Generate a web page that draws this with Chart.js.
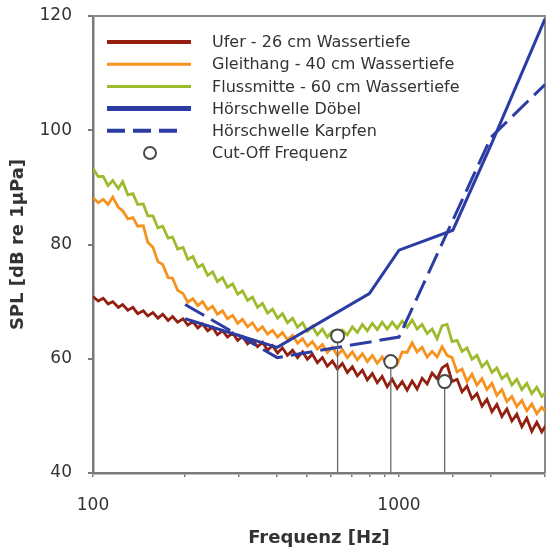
<!DOCTYPE html>
<html>
<head>
<meta charset="utf-8">
<title>SPL Spektren</title>
<script src="https://cdn.jsdelivr.net/npm/chart.js@4.4.1/dist/chart.umd.min.js"></script>
<style>
    html, body { margin: 0; padding: 0; background: #fff; }
    #myChart { display: block; }
</style>
</head>
<body>
<canvas id="myChart" width="547" height="550"></canvas>
<script>
"use strict";

// Frequenzachse der gemessenen Spektren [Hz]
let freq = [100,104,108,112,116,121,125,130,135,140,146,151,157,163,169,176,182,189,197,204,
    212,220,228,237,246,255,265,275,286,297,308,320,332,345,358,372,386,401,416,432,
    449,466,484,502,521,541,562,583,606,629,653,678,704,731,759,788,818,849,881,915,
    950,986,1024,1063,1104,1146,1190,1236,1283,1332,1383,1436,1491,1548,1607,1668,1732,1798,1867,1938,
    2012,2089,2169,2252,2338,2427,2520,2616,2716,2820,2928,3040];

// Ufer - 26 cm Wassertiefe [dB re 1µPa]
let ufer = [70.9,70.1,70.6,69.6,70.0,69.0,69.5,68.5,69.0,67.9,68.4,67.5,68.1,67.1,67.8,66.7,67.4,66.4,67.0,65.9,
    66.5,65.4,66.1,64.9,65.5,64.2,64.9,63.8,64.5,63.2,63.9,62.6,63.3,62.1,62.9,61.5,62.3,61.0,61.9,60.6,
    61.5,60.2,61.2,59.9,60.8,59.3,60.2,58.7,59.6,58.2,59.2,57.6,58.6,57.0,58.0,56.3,57.4,55.8,56.9,55.1,
    56.4,54.8,56.0,54.5,56.1,54.7,56.6,55.6,57.5,56.5,58.4,59.0,56.0,56.4,54.2,55.2,53.0,53.9,51.7,52.9,
    50.7,52.0,49.9,51.2,49.1,50.3,48.1,49.6,47.3,48.9,47.2,48.6];

// Gleithang - 40 cm Wassertiefe
let gleithang = [88.2,87.3,87.9,87.0,88.3,86.5,85.9,84.5,84.7,83.2,83.3,80.4,79.5,77.0,76.5,74.2,74.1,72.0,71.4,69.9,
    70.5,69.3,70.0,68.6,69.2,67.8,68.4,67.0,67.6,66.2,66.9,65.6,66.3,64.9,65.6,64.3,65.0,63.8,64.6,63.3,
    64.1,62.7,63.5,62.2,63.0,61.7,62.5,61.1,62.0,60.6,61.6,60.2,61.2,59.8,60.9,59.5,60.6,59.2,60.3,58.8,
    59.9,59.0,61.2,61.1,62.8,61.2,62.0,60.3,61.3,60.3,62.1,60.6,60.2,57.7,58.2,56.0,57.3,55.4,56.5,54.6,
    55.7,53.6,54.6,52.5,53.4,51.6,52.7,50.9,52.1,50.4,51.5,50.5];

// Flussmitte - 60 cm Wassertiefe
let flussmitte = [93.3,91.9,91.9,90.3,91.2,89.8,91.0,88.7,88.9,87.0,87.1,85.0,85.0,82.9,83.2,81.1,81.3,79.2,79.5,77.4,
    77.9,76.0,76.5,74.6,75.2,73.5,74.2,72.5,73.1,71.3,71.9,70.2,70.8,69.0,69.7,68.0,68.7,67.1,67.9,66.3,
    67.1,65.5,66.3,64.8,65.7,64.2,65.2,63.8,64.8,63.5,65.0,64.2,65.6,64.6,66.0,64.9,66.2,65.1,66.4,65.2,
    66.4,65.3,66.6,65.5,66.8,65.2,66.0,64.4,65.2,63.5,65.8,66.0,63.0,63.2,61.3,61.9,59.9,60.6,58.6,59.5,
    57.6,58.4,56.5,57.3,55.4,56.4,54.6,55.7,53.9,55.0,53.4,54.3];

// Hörschwellen
let doebelFreq = [200, 400, 800, 1000, 1500, 2000, 3000];
let doebel = [67, 62, 71.4, 79, 82.5, 97.5, 119.5];
let karpfenFreq = [200, 400, 1000, 2000, 3000];
let karpfen = [69.5, 60.2, 63.8, 98.8, 108];

// Cut-Off Frequenzen der drei Messstellen
let cutOffFreq = [630, 940, 1410];
let cutOff = [64, 59.5, 56];

let yTicks = [40, 60, 80, 100, 120];
let xLabels = [100, 1000];

let FONT = "'DejaVu Sans', Verdana, sans-serif";

function toPoints(xs, ys) {
    return xs.map(function (x, i) { return {x: x, y: ys[i]}; });
}

// senkrechte Linien von der Cut-Off Frequenz bis zur Achse
function dropLines(xs, ys, base) {
    let pts = [];
    for (let i = 0; i < xs.length; i++) {
        pts.push({x: xs[i], y: ys[i]});
        pts.push({x: xs[i], y: base});
        pts.push({x: xs[i], y: null});
    }
    return pts;
}

// keine zusaetzlichen Raender fuer die Achsenbeschriftung
function noPadding(scale) {
    scale.paddingTop = 0;
    scale.paddingBottom = 0;
    scale.paddingLeft = 0;
    scale.paddingRight = 0;
}

// Rahmen oben und rechts
const frame = {
    id: "frame",
    beforeDatasetsDraw: function (chart) {
        let ctx = chart.ctx, a = chart.chartArea;
        ctx.save();
        ctx.strokeStyle = "#8a8a8a";
        ctx.lineWidth = 2;
        ctx.beginPath();
        ctx.moveTo(a.left, a.top);
        ctx.lineTo(a.right, a.top);
        ctx.lineTo(a.right, a.bottom);
        ctx.stroke();
        ctx.restore();
    }
};

// Legende innerhalb der Grafik, links oben
const legendBox = {
    id: "legendBox",
    afterDatasetsDraw: function (chart) {
        let ctx = chart.ctx, a = chart.chartArea;
        let row = 0;
        ctx.save();
        chart.data.datasets.forEach(function (ds) {
            if (!ds.label) return;
            let y = a.top + 26 + row * 22.2;
            let x0 = a.left + 14, x1 = a.left + 98;
            if (ds.showLine === false) {
                ctx.setLineDash([]);
                ctx.beginPath();
                ctx.arc((x0 + x1) / 2 + 1, y, 6, 0, Math.PI * 2);
                ctx.fillStyle = ds.pointBackgroundColor;
                ctx.fill();
                ctx.lineWidth = ds.pointBorderWidth;
                ctx.strokeStyle = ds.pointBorderColor;
                ctx.stroke();
            } else {
                if (ds.borderDash) {
                    ctx.setLineDash([18, 8]);
                    x1 = a.left + 90;
                } else {
                    ctx.setLineDash([]);
                }
                ctx.lineWidth = ds.legendWidth;
                ctx.strokeStyle = ds.borderColor;
                ctx.beginPath();
                ctx.moveTo(x0, y);
                ctx.lineTo(x1, y);
                ctx.stroke();
            }
            ctx.setLineDash([]);
            ctx.fillStyle = "#333";
            ctx.font = "16px " + FONT;
            ctx.textBaseline = "middle";
            ctx.textAlign = "left";
            ctx.fillText(ds.label, a.left + 119, y + 1);
            row++;
        });
        ctx.restore();
    }
};

let _Chart = document.getElementById("myChart");

let newChart = new Chart(_Chart, {
    type: "line",
    data: {
        datasets: [
            {
                label: "Ufer - 26 cm Wassertiefe",
                data: toPoints(freq, ufer),
                borderColor: "#921f10",
                borderWidth: 2.8,
                legendWidth: 4,
                pointRadius: 0,
                order: 5
            },
            {
                label: "Gleithang - 40 cm Wassertiefe",
                data: toPoints(freq, gleithang),
                borderColor: "#f7921e",
                borderWidth: 2.8,
                legendWidth: 3,
                pointRadius: 0,
                order: 6
            },
            {
                label: "Flussmitte - 60 cm Wassertiefe",
                data: toPoints(freq, flussmitte),
                borderColor: "#9dbb2c",
                borderWidth: 2.8,
                legendWidth: 3,
                pointRadius: 0,
                order: 7
            },
            {
                label: "Hörschwelle Döbel",
                data: toPoints(doebelFreq, doebel),
                borderColor: "#2b3da3",
                borderWidth: 3,
                legendWidth: 5,
                pointRadius: 0,
                order: 2
            },
            {
                label: "Hörschwelle Karpfen",
                data: toPoints(karpfenFreq, karpfen),
                borderColor: "#2b3da3",
                borderWidth: 3,
                borderDash: [22, 8],
                legendWidth: 4,
                pointRadius: 0,
                order: 3
            },
            {
                label: "Cut-Off Frequenz",
                data: toPoints(cutOffFreq, cutOff),
                showLine: false,
                pointRadius: 6.5,
                pointBackgroundColor: "#ffffff",
                pointBorderColor: "#4a4a4a",
                pointBorderWidth: 2,
                order: 0
            },
            {
                data: dropLines(cutOffFreq, cutOff, yTicks[0]),
                borderColor: "#6a6a6a",
                borderWidth: 1.3,
                pointRadius: 0,
                spanGaps: false,
                order: 1
            }
        ]
    },
    plugins: [frame, legendBox],
    options: {
        responsive: false,
        animation: false,
        devicePixelRatio: 1,
        layout: { autoPadding: false, padding: { top: 16, right: 2, left: 0, bottom: 0 } },
        plugins: {
            legend: { display: false },
            tooltip: { enabled: false }
        },
        elements: { line: { tension: 0 } },
        scales: {
            x: {
                type: "logarithmic",
                min: 100,
                max: 3000,
                afterFit: function (scale) { scale.height = 77; noPadding(scale); },
                border: { display: true, color: "#7a7a7a", width: 2.5 },
                grid: { drawOnChartArea: false, drawTicks: true, tickLength: 4, color: "#7a7a7a", lineWidth: 1.5 },
                ticks: {
                    autoSkip: false,
                    maxRotation: 0,
                    padding: 18,
                    color: "#333",
                    font: { family: FONT, size: 17 },
                    callback: function (value) { return xLabels.indexOf(value) >= 0 ? String(value) : ""; }
                },
                title: {
                    display: true,
                    text: "Frequenz [Hz]",
                    color: "#333",
                    font: { family: FONT, size: 18, weight: "bold" },
                    padding: { top: 0, bottom: 1 }
                }
            },
            y: {
                type: "linear",
                min: 40,
                max: 120,
                afterFit: function (scale) { scale.width = 93; noPadding(scale); },
                afterBuildTicks: function (scale) {
                    scale.ticks = yTicks.map(function (v) { return {value: v}; });
                },
                border: { display: true, color: "#7a7a7a", width: 2.5 },
                grid: { drawOnChartArea: false, drawTicks: true, tickLength: 5, color: "#7a7a7a", lineWidth: 2 },
                ticks: {
                    padding: 16,
                    color: "#333",
                    font: { family: FONT, size: 17 }
                },
                title: {
                    display: true,
                    text: "SPL [dB re 1µPa]",
                    color: "#333",
                    font: { family: FONT, size: 18, weight: "bold" },
                    padding: { top: 8, bottom: 0 }
                }
            }
        }
    }
});
</script>
</body>
</html>
